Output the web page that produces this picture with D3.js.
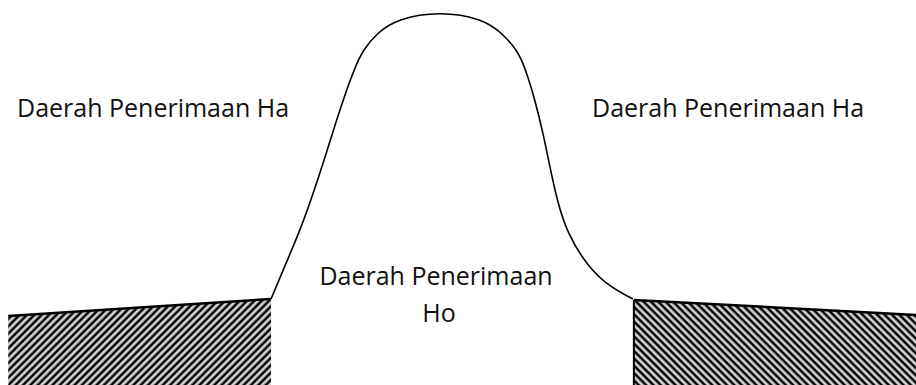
<!DOCTYPE html>
<html>
<head>
<meta charset="utf-8">
<script src="https://cdn.jsdelivr.net/npm/d3@7"></script>
<style>
html,body{margin:0;padding:0;background:#fff;}
svg{display:block;}
text{font-family:"Open Sans",sans-serif;fill:#111;}
</style>
</head>
<body>
<svg id="chart" width="916" height="385"></svg>
<script>
// Bell curve (data units: x 0..100 across, y 0..100 up)
const curveX = [29.59, 31.05, 32.64, 33.95, 35.15, 36.30, 37.45, 38.76, 39.63, 41.16, 43.34, 48.03, 52.73, 54.80, 56.44, 57.31, 58.41, 59.28, 60.04, 60.81, 61.90, 64.19, 66.59, 69.10];
const curveY = [22.34, 30.65, 39.48, 48.05, 56.62, 65.45, 74.03, 82.60, 87.01, 91.43, 95.10, 97.10, 95.10, 91.43, 87.01, 82.60, 74.03, 65.45, 56.62, 48.05, 39.48, 30.65, 25.45, 22.34];
// Rejection regions (top edge end points)
const leftRegionX = [0.9, 29.59];
const leftRegionTop = [17.9, 22.34];
const rightRegionX = [69.2, 100];
const rightRegionTop = [22.1, 18.2];
// Labels
const sideLabel = "Daerah Penerimaan Ha";
const centerLabel = ["Daerah Penerimaan", "Ho"];

const W = 916, H = 385;
const svg = d3.select("#chart");
const x = d3.scaleLinear().domain([0, 100]).range([0, W]);
const y = d3.scaleLinear().domain([0, 100]).range([H, 0]);

const defs = svg.append("defs");
function hatch(id, angle) {
  const p = defs.append("pattern")
    .attr("id", id)
    .attr("patternUnits", "userSpaceOnUse")
    .attr("width", 5.2).attr("height", 10)
    .attr("patternTransform", `rotate(${angle})`);
  p.append("rect").attr("width", 5.2).attr("height", 10).attr("fill", "#fff");
  p.append("rect").attr("x", 0.5).attr("width", 1.2).attr("height", 10).attr("fill", "#777");
  p.append("rect").attr("x", 1.7).attr("width", 1.8).attr("height", 10).attr("fill", "#000");
  p.append("rect").attr("x", 3.5).attr("width", 1.0).attr("height", 10).attr("fill", "#777");
}
hatch("hatchL", 45);
hatch("hatchR", -45);

function region(xs, tops, fillId) {
  const pts = [[x(xs[0]), y(tops[0])], [x(xs[1]), y(tops[1])], [x(xs[1]), y(-2)], [x(xs[0]), y(-2)]];
  svg.append("path")
    .attr("d", d3.line()(pts) + "Z")
    .attr("fill", `url(#${fillId})`)
    .attr("stroke", "none");
  svg.append("path")
    .attr("d", d3.line()([[x(xs[0]), y(tops[0])], [x(xs[1]), y(tops[1])]]))
    .attr("fill", "none").attr("stroke", "#000").attr("stroke-width", 2.5);
}
region(leftRegionX, leftRegionTop, "hatchL");
region(rightRegionX, rightRegionTop, "hatchR");
// left border of right region
svg.append("path")
  .attr("d", d3.line()([[x(rightRegionX[0]), y(rightRegionTop[0])], [x(rightRegionX[0]), y(-2)]]))
  .attr("stroke", "#000").attr("stroke-width", 2);

// bell curve
const pts = curveX.map((v, i) => [x(v), y(curveY[i])]);
svg.append("path")
  .attr("d", d3.line().curve(d3.curveBasis)(pts))
  .attr("fill", "none").attr("stroke", "#000").attr("stroke-width", 1.6);

// labels
const fs = 25;
svg.append("text").attr("x", 17).attr("y", 117).attr("font-size", fs).text(sideLabel);
svg.append("text").attr("x", 592).attr("y", 117).attr("font-size", fs).text(sideLabel);
svg.append("text").attr("x", 436).attr("y", 285).attr("font-size", fs).attr("text-anchor", "middle").text(centerLabel[0]);
svg.append("text").attr("x", 439).attr("y", 322).attr("font-size", fs).attr("text-anchor", "middle").text(centerLabel[1]);
</script>
</body>
</html>
